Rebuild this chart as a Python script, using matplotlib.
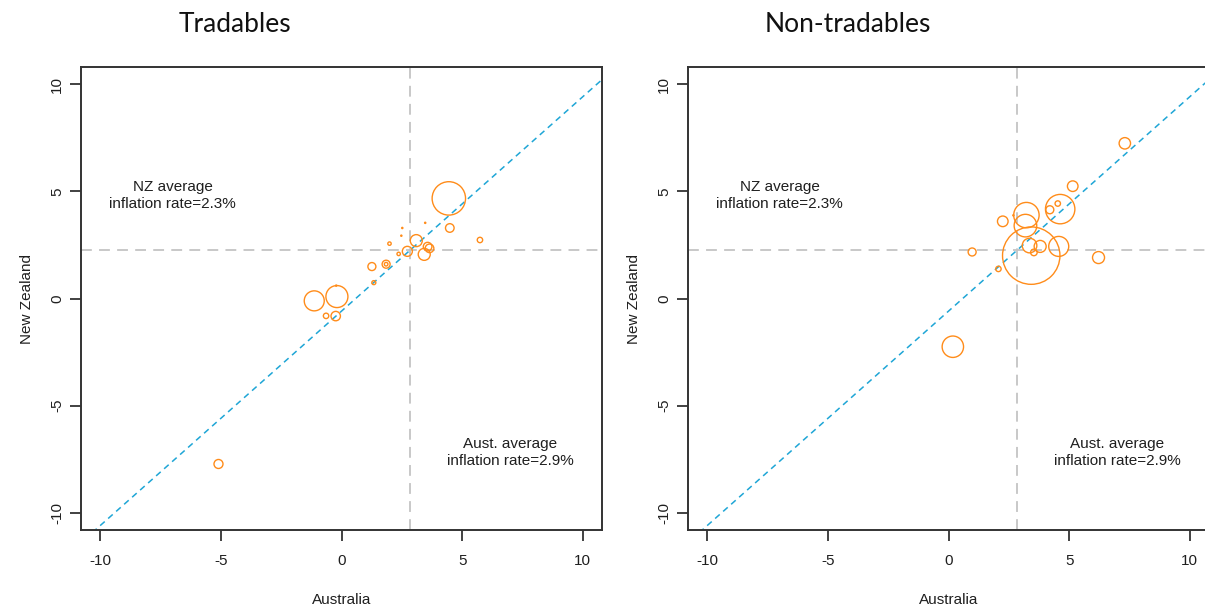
import matplotlib.pyplot as plt

# --- dados: inflação média por componente (Austrália vs Nova Zelândia) ---
# peso = tamanho do círculo (proporcional ao raio)
trad_aus = [4.45, 4.49, 5.74, 3.47, 2.52, 2.48, 1.99, 3.10, 2.73, 3.57, 3.65, 3.43,
            2.37, 1.26, 1.85, 1.85, 1.34, -1.13, -0.19, -0.22, -0.64, -0.24, -5.10]
trad_nz = [4.67, 3.29, 2.73, 3.53, 3.29, 2.93, 2.56, 2.70, 2.20, 2.42, 2.34, 2.06,
           2.08, 1.49, 1.60, 1.60, 0.74, -0.11, 0.09, 0.60, -0.81, -0.82, -7.72]
trad_peso = [16.7, 4.3, 2.7, 0.6, 0.6, 0.6, 1.7, 6.0, 5.0, 4.3, 4.3, 6.0,
             1.7, 4.0, 4.0, 1.8, 2.0, 10.0, 11.0, 0.6, 2.7, 4.7, 4.5]

nontrad_aus = [7.31, 5.15, 4.63, 4.53, 4.20, 3.23, 2.25, 3.19, 3.43, 3.36, 3.80, 4.57,
               3.54, 0.98, 6.22, 2.07, 0.18, 2.69]
nontrad_nz = [7.24, 5.24, 4.17, 4.43, 4.14, 3.89, 3.60, 3.40, 2.00, 2.47, 2.43, 2.43,
              2.15, 2.17, 1.91, 1.38, -2.25, 3.88]
nontrad_peso = [5.7, 5.3, 14.7, 2.7, 4.0, 12.7, 5.3, 11.3, 28.7, 7.3, 6.0, 10.0,
                3.3, 4.0, 6.0, 2.7, 10.7, 0.6]

media_aus = 2.86
media_nz = 2.27
ticks = [-10, -5, 0, 5, 10]

plt.rcParams['font.family'] = ['Liberation Sans', 'DejaVu Sans']

fig = plt.figure(figsize=(12.05, 6.07), dpi=100)
ax1 = fig.add_axes([81 / 1205, 1 - 530 / 607, 521 / 1205, 463 / 607])
ax2 = fig.add_axes([688 / 1205, 1 - 530 / 607, 521 / 1205, 463 / 607])

laranja = '#ff8c1a'
azul = '#1fa6d6'
cinza = '#c4c4c4'
texto = '#1f1f1f'


def painel(ax, aus, nz, peso):
    ax.set_xlim(-10.8, 10.8)
    ax.set_ylim(-10.8, 10.8)
    # linhas de média
    ax.axvline(media_aus, color=cinza, lw=1.3, dashes=(6, 4), zorder=1)
    ax.axhline(media_nz, color=cinza, lw=1.3, dashes=(6, 4), zorder=1)
    # linha de inclinação 1 passando pelas médias
    desloc = media_nz - media_aus
    ax.plot([-11, 11], [-11 + desloc, 11 + desloc], color=azul, lw=1.1,
            dashes=(4, 3), zorder=2)
    # círculos: raio em pixels -> área em pontos^2
    tam = [(2 * r * 0.72) ** 2 for r in peso]
    ax.scatter(aus, nz, s=tam, facecolors='none', edgecolors=laranja,
               linewidths=1.0, zorder=3)
    ax.text(-7, 4.8, f'NZ average\ninflation rate={media_nz:.1f}%', ha='center',
            va='center', fontsize=11, color=texto, linespacing=1.25)
    ax.text(7, -7.2, f'Aust. average\ninflation rate={media_aus:.1f}%', ha='center',
            va='center', fontsize=11, color=texto, linespacing=1.25)
    ax.set_xticks(ticks)
    ax.set_yticks(ticks)
    ax.set_xticklabels([str(t) for t in ticks], fontsize=11, color=texto)
    ax.set_yticklabels([str(t) for t in ticks], fontsize=11, color=texto,
                       rotation=90, va='center')
    ax.tick_params(direction='out', length=8, width=1.3, color='#333333')
    ax.tick_params(axis='x', pad=9)
    ax.tick_params(axis='y', pad=4)
    for s in ax.spines.values():
        s.set_color('#333333')
        s.set_linewidth(1.4)
    ax.set_xlabel('Australia', fontsize=11, color=texto, labelpad=18)
    ax.set_ylabel('New Zealand', fontsize=11, color=texto, labelpad=12)


painel(ax1, trad_aus, trad_nz, trad_peso)
painel(ax2, nontrad_aus, nontrad_nz, nontrad_peso)

fig.text(235 / 1205, 1 - 25 / 607, 'Tradables', ha='center', va='center',
         fontsize=19, family=['Lato', 'DejaVu Sans'], color='#111111')
fig.text(848 / 1205, 1 - 25 / 607, 'Non-tradables', ha='center', va='center',
         fontsize=19, family=['Lato', 'DejaVu Sans'], color='#111111')

fig.savefig('out.png', dpi=100)
